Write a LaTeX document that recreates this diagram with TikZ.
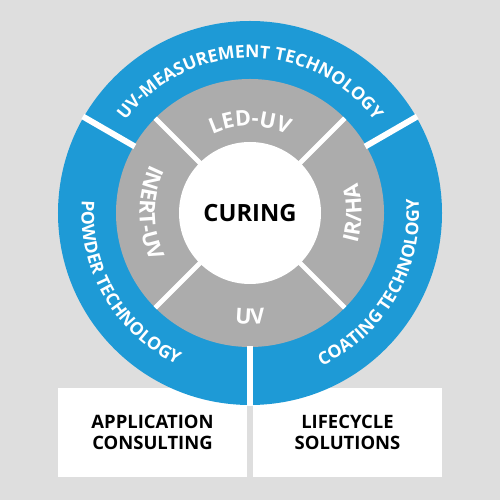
\documentclass[tikz,border=0pt]{standalone}
\usepackage{fontspec}
\setmainfont{Open Sans}
\newfontfamily\ringfont{Open Sans}
\newfontfamily\hubfont[LetterSpace=5]{Open Sans}
\usetikzlibrary{decorations.text}
\definecolor{ringblue}{HTML}{1E9AD6}
\definecolor{ringgray}{HTML}{ACACAC}
\definecolor{bggray}{HTML}{DEDEDE}

\begin{document}
\begin{tikzpicture}[
		box/.style={fill=white, minimum width=3.78cm, minimum height=1.78cm, inner sep=0pt, align=center, font=\bfseries\fontsize{10.5}{12.3}\selectfont},
		sepline/.style={white, line width=3.4pt},
		bluetext/.style={decoration={text along path, text align=center, text={|\ringfont\bfseries\fontsize{10}{11}\selectfont\color{white}|#1}}, decorate},
		graytext/.style={decoration={text along path, text align=center, text={|\hubfont\bfseries\fontsize{12.3}{13}\selectfont\color{white}|#1}}, decorate}
	]
		\fill [bggray] (-5,-5.74) rectangle (5,4.26);
		\useasboundingbox (-5,-5.74) rectangle (5,4.26);
		% boxes below the ring
		\node [box] (app) at (-1.95,-4.39) {APPLICATION\\CONSULTING};
		\node [box] (life) at (1.95,-4.39) {LIFECYCLE\\SOLUTIONS};
		% rings
		\fill [ringblue] (0,0) circle (3.84);
		\fill [ringgray] (0,0) circle (2.68);
		\foreach \a in {30,150,270}
			\draw [sepline] (\a:2.66) -- (\a:3.86);
		\foreach \a in {45,135,225,315}
			\draw [white, line width=2.8pt] (0,0) -- (\a:2.68);
		\node [circle, fill=white, minimum size=2.84cm, inner sep=0pt, font=\bfseries\fontsize{13.5}{14}\selectfont] (curing) at (0,0) {CURING};
		% outer texts
		\path [bluetext={UV-MEASUREMENT TECHNOLOGY}] (150:3.1) arc [start angle=150, end angle=30, radius=3.1];
		\path [bluetext={POWDER TECHNOLOGY}] (150:3.37) arc [start angle=150, end angle=270, radius=3.37];
		\path [bluetext={COATING TECHNOLOGY}] (270:3.38) arc [start angle=270, end angle=390, radius=3.38];
		% inner texts
		\path [graytext={LED-UV}] (135:1.74) arc [start angle=135, end angle=45, radius=1.74];
		\path [graytext={INERT-UV}] (135:2.21) arc [start angle=135, end angle=225, radius=2.21];
		\path [graytext={IR/HA}] (-45:2.23) arc [start angle=-45, end angle=45, radius=2.23];
		\path [graytext={UV}] (225:2.22) arc [start angle=225, end angle=315, radius=2.22];
\end{tikzpicture}
\end{document}
